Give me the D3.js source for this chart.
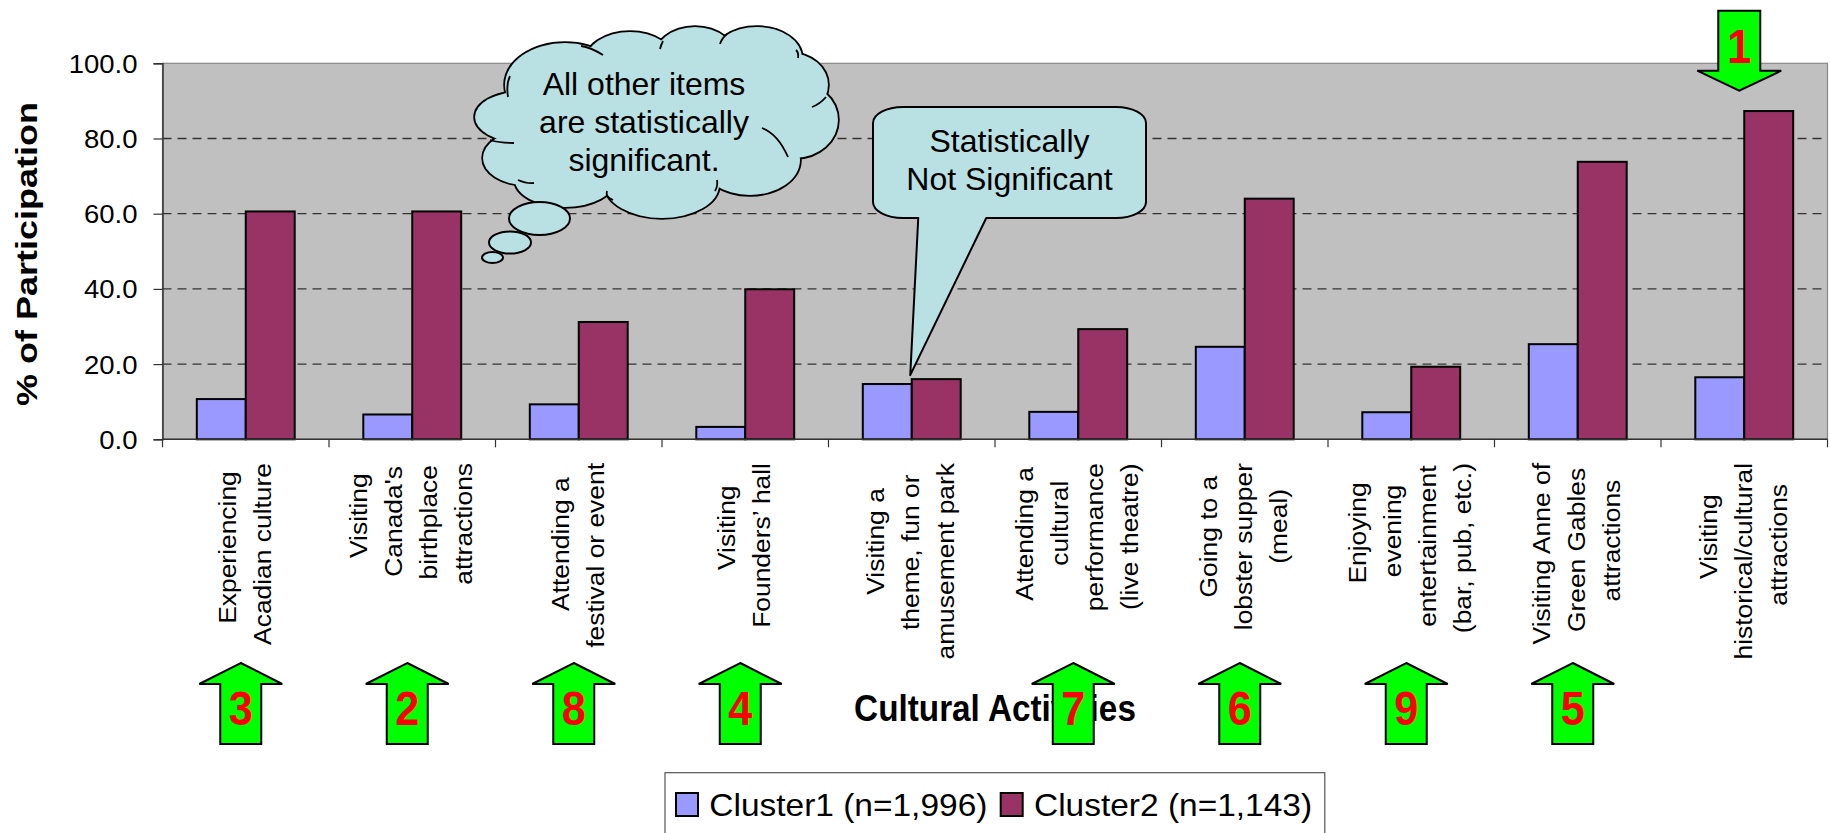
<!DOCTYPE html>
<html>
<head>
<meta charset="utf-8">
<script src="https://cdn.jsdelivr.net/npm/d3@7"></script>
<style>
body { margin: 0; background: #fff; }
text { font-family: "Liberation Sans", Arial, sans-serif; }
</style>
</head>
<body>
<svg width="1831" height="833"></svg>
<script>
// category labels, already broken into lines as in the chart
var categories = [
	["Experiencing", "Acadian culture"],
	["Visiting", "Canada's", "birthplace", "attractions"],
	["Attending a", "festival or event"],
	["Visiting", "Founders\u2019 hall"],
	["Visiting a", "theme, fun or", "amusement park"],
	["Attending a", "cultural", "performance", "(live theatre)"],
	["Going to a", "lobster supper", "(meal)"],
	["Enjoying", "evening", "entertainment", "(bar, pub, etc.)"],
	["Visiting Anne of", "Green Gables", "attractions"],
	["Visiting", "historical/cultural", "attractions"]
];
var cluster1 = [10.7, 6.6, 9.3, 3.3, 14.7, 7.3, 24.6, 7.2, 25.3, 16.5];
var cluster2 = [60.6, 60.6, 31.2, 39.9, 16.0, 29.3, 64.0, 19.3, 73.8, 87.3];
var seriesNames = ["Cluster1 (n=1,996)", "Cluster2 (n=1,143)"];
var ranks = [3, 2, 8, 4, null, 7, 6, 9, 5, 1];
var notSignificant = 4;
var yTicks = [0, 20, 40, 60, 80, 100];
var colors = ["#9999FF", "#993366"];

var svg = d3.select("svg"),
	plotL = 162.5, plotR = 1827.5, plotT = 63.3, plotB = 439.3;

svg.append("rect").attr("width", 1831).attr("height", 833).attr("fill", "#fff");

var x = d3.scaleBand().domain(d3.range(categories.length)).range([plotL, plotR]);
var groupW = x.bandwidth() * 0.588;
var xs = d3.scaleBand().domain([0, 1]).range([0, groupW]);
var y = d3.scaleLinear().domain([0, 100]).range([plotB, plotT]);

// plot area
svg.append("rect")
	.attr("x", plotL).attr("y", plotT)
	.attr("width", plotR - plotL).attr("height", plotB - plotT)
	.attr("fill", "#C0C0C0")
	.attr("stroke", "#888").attr("stroke-width", 1.2);

// gridlines
svg.append("g").selectAll("line")
	.data(yTicks.filter(function(d) { return d > 0 && d < 100; }))
	.enter().append("line")
	.attr("x1", plotL).attr("x2", plotR)
	.attr("y1", function(d) { return y(d); })
	.attr("y2", function(d) { return y(d); })
	.attr("stroke", "#333").attr("stroke-width", 1.3)
	.attr("stroke-dasharray", "9,6");

// bars
var series = [cluster1, cluster2];
series.forEach(function(vals, s) {
	svg.append("g").selectAll("rect")
		.data(vals)
		.enter().append("rect")
		.attr("x", function(d, i) { return x(i) + (x.bandwidth() - groupW) / 2 + xs(s); })
		.attr("y", function(d) { return y(d); })
		.attr("width", xs.bandwidth())
		.attr("height", function(d) { return plotB - y(d); })
		.attr("fill", colors[s])
		.attr("stroke", "#000").attr("stroke-width", 2);
});

// y axis
var yAxis = svg.append("g")
	.attr("transform", "translate(" + plotL + ",0)")
	.call(d3.axisLeft(y).tickValues(yTicks).tickFormat(d3.format(".1f")).tickSize(9));
yAxis.select(".domain").attr("stroke", "#333").attr("stroke-width", 1.5);
yAxis.selectAll(".tick line").attr("stroke", "#333").attr("stroke-width", 1.2);
yAxis.selectAll(".tick text")
	.attr("x", 0).attr("dy", "0.36em")
	.attr("transform", "translate(-25,0) scale(1.1,1)")
	.style("font-family", "'Liberation Sans', Arial, sans-serif")
	.style("font-size", "25px").attr("fill", "#000");

// x axis line and ticks between categories
svg.append("line")
	.attr("x1", plotL).attr("x2", plotR)
	.attr("y1", plotB).attr("y2", plotB)
	.attr("stroke", "#333").attr("stroke-width", 1.5);
svg.append("g").selectAll("line")
	.data(d3.range(categories.length + 1))
	.enter().append("line")
	.attr("x1", function(d) { return plotL + d * x.step(); })
	.attr("x2", function(d) { return plotL + d * x.step(); })
	.attr("y1", plotB).attr("y2", plotB + 8)
	.attr("stroke", "#333").attr("stroke-width", 1.2);

// category labels, rotated
var labelScale = 1.1, linePitch = 35, labelTop = 463;
categories.forEach(function(lines, i) {
	var cx = x(i) + x.bandwidth() / 2;
	var g = svg.append("g");
	var texts = lines.map(function(s) {
		return g.append("text").text(s)
			.attr("font-size", 24)
			.attr("text-anchor", "end")
			.attr("fill", "#000");
	});
	var lens = texts.map(function(t) { return t.node().getComputedTextLength() * labelScale; });
	var maxLen = d3.max(lens);
	texts.forEach(function(t, j) {
		var bx = cx + 7.5 + (j - (lines.length - 1) / 2) * linePitch;
		var ty = labelTop + (maxLen - lens[j]) * 0.28;
		t.attr("transform", "translate(" + bx + "," + ty + ") rotate(-90) scale(" + labelScale + ",1)");
	});
});

// axis titles
svg.append("text")
	.attr("transform", "translate(37,254) rotate(-90) scale(1.2,1)")
	.attr("text-anchor", "middle")
	.attr("font-size", 30).attr("font-weight", "bold")
	.text("% of Participation");

svg.append("text")
	.attr("transform", "translate(" + (plotL + plotR) / 2 + ",720.7) scale(0.9,1)")
	.attr("text-anchor", "middle")
	.attr("font-size", 37).attr("font-weight", "bold")
	.text("Cultural Activities");

// rank arrows
var arrowNudge = -5, upTop = 663, downTop = 10.7;
ranks.forEach(function(r, i) {
	if (r == null) return;
	var cx = x(i) + x.bandwidth() / 2 + arrowNudge;
	var g = svg.append("g");
	var p, ty, t;
	if (r === 1) {
		t = downTop;
		p = "M" + (cx - 21) + "," + t + "L" + (cx + 21) + "," + t + "L" + (cx + 21) + "," + (t + 60) +
			"L" + (cx + 42) + "," + (t + 60) + "L" + cx + "," + (t + 80) + "L" + (cx - 42) + "," + (t + 60) +
			"L" + (cx - 21) + "," + (t + 60) + "Z";
		ty = t + 52.6;
	} else {
		t = upTop;
		p = "M" + cx + "," + t + "L" + (cx + 41.5) + "," + (t + 21) + "L" + (cx + 20.5) + "," + (t + 21) +
			"L" + (cx + 20.5) + "," + (t + 81) + "L" + (cx - 20.5) + "," + (t + 81) + "L" + (cx - 20.5) + "," + (t + 21) +
			"L" + (cx - 41.5) + "," + (t + 21) + "Z";
		ty = t + 62;
	}
	g.append("path").attr("d", p)
		.attr("fill", "#00FF00").attr("stroke", "#000").attr("stroke-width", 2)
		.attr("stroke-linejoin", "miter");
	g.append("text")
		.attr("transform", "translate(" + cx + "," + ty + ") scale(0.94,1.04)")
		.attr("text-anchor", "middle")
		.attr("font-size", 46).attr("font-weight", "bold")
		.attr("fill", "#FF0000")
		.text(r);
});

// legend
var legend = svg.append("g");
var legBox = legend.append("rect")
	.attr("y", 772.7).attr("height", 80)
	.attr("fill", "#fff").attr("stroke", "#555").attr("stroke-width", 1.2);
var lx = 676;
seriesNames.forEach(function(name, s) {
	legend.append("rect")
		.attr("x", lx).attr("y", 793).attr("width", 22).attr("height", 23)
		.attr("fill", colors[s]).attr("stroke", "#000").attr("stroke-width", 2);
	var t = legend.append("text")
		.attr("transform", "translate(" + (lx + 33.3) + ",815.7) scale(1.08,1)")
		.attr("font-size", 31)
		.text(name);
	lx = lx + 33.3 + t.node().getComputedTextLength() * 1.08 + 13.3;
});
legBox.attr("x", 665).attr("width", lx - 13.3 + 12.7 - 665);

// cloud callout
var cloudFill = "#B9E0E3";
var lobes = [
	[520, 117, 45, 25], [525, 158, 42, 27], [565, 180, 50, 27], [662, 185, 57, 33],
	[750, 160, 50, 35], [795, 120, 43, 38], [790, 85, 38, 32], [757, 58, 45, 31],
	[695, 60, 42, 33], [630, 62, 45, 30], [565, 85, 60, 42], [650, 120, 130, 60]
];
var bubbles = [[539.5, 218.5, 30.5, 16.5], [510, 242.5, 21, 11], [492.5, 257.5, 10.5, 5.5]];
// little inner strokes where the lobes meet
var creases = [
	[490, 140, 500, 143, 514, 143], [518, 180, 527, 184, 534, 183], [613, 200, 605, 197, 607, 191],
	[715, 191, 718, 186, 717, 180], [788, 157, 778, 134, 762, 128], [826, 97, 820, 104, 812, 107],
	[796, 50, 799, 53, 798, 58], [727, 34, 722, 38, 720, 44], [663, 41, 661, 45, 660, 49],
	[581, 46, 590, 47, 603, 55], [510, 76, 506, 84, 508, 97]
];
var cloud = svg.append("g");
cloud.selectAll("ellipse.o").data(lobes).enter().append("ellipse")
	.attr("cx", function(d) { return d[0]; }).attr("cy", function(d) { return d[1]; })
	.attr("rx", function(d) { return d[2]; }).attr("ry", function(d) { return d[3]; })
	.attr("fill", cloudFill).attr("stroke", "#000").attr("stroke-width", 3.5);
cloud.selectAll("ellipse.f").data(lobes).enter().append("ellipse")
	.attr("cx", function(d) { return d[0]; }).attr("cy", function(d) { return d[1]; })
	.attr("rx", function(d) { return d[2]; }).attr("ry", function(d) { return d[3]; })
	.attr("fill", cloudFill);
cloud.selectAll("path").data(creases).enter().append("path")
	.attr("d", function(d) { return "M" + d[0] + "," + d[1] + "Q" + d[2] + "," + d[3] + " " + d[4] + "," + d[5]; })
	.attr("fill", "none").attr("stroke", "#000").attr("stroke-width", 1.8);
cloud.selectAll("ellipse.b").data(bubbles).enter().append("ellipse")
	.attr("cx", function(d) { return d[0]; }).attr("cy", function(d) { return d[1]; })
	.attr("rx", function(d) { return d[2]; }).attr("ry", function(d) { return d[3]; })
	.attr("fill", cloudFill).attr("stroke", "#000").attr("stroke-width", 2);
["All other items", "are statistically", "significant."].forEach(function(s, j) {
	cloud.append("text")
		.attr("x", 644).attr("y", 95 + j * 37.8)
		.attr("text-anchor", "middle").attr("font-size", 32)
		.text(s);
});

// speech callout pointing at the non significant pair
var bx0 = 873, bx1 = 1146, by0 = 107, by1 = 218, crx = 30, cry = 16;
var tipX = x(notSignificant) + x.bandwidth() / 2 - 1.5,
	tipY = y(Math.max(cluster1[notSignificant], cluster2[notSignificant])) - 4;
var sp = "M" + (bx0 + crx) + "," + by0 +
	"L" + (bx1 - crx) + "," + by0 +
	"A" + crx + "," + cry + " 0 0 1 " + bx1 + "," + (by0 + cry) +
	"L" + bx1 + "," + (by1 - cry) +
	"A" + crx + "," + cry + " 0 0 1 " + (bx1 - crx) + "," + by1 +
	"L" + (tipX + 76) + "," + by1 +
	"L" + tipX + "," + tipY +
	"L" + (tipX + 8) + "," + by1 +
	"L" + (bx0 + crx) + "," + by1 +
	"A" + crx + "," + cry + " 0 0 1 " + bx0 + "," + (by1 - cry) +
	"L" + bx0 + "," + (by0 + cry) +
	"A" + crx + "," + cry + " 0 0 1 " + (bx0 + crx) + "," + by0 + "Z";
svg.append("path").attr("d", sp)
	.attr("fill", cloudFill).attr("stroke", "#000").attr("stroke-width", 2)
	.attr("stroke-linejoin", "round");
["Statistically", "Not Significant"].forEach(function(s, j) {
	svg.append("text")
		.attr("x", (bx0 + bx1) / 2).attr("y", 151.7 + j * 38.3)
		.attr("text-anchor", "middle").attr("font-size", 32)
		.text(s);
});
</script>
</body>
</html>
